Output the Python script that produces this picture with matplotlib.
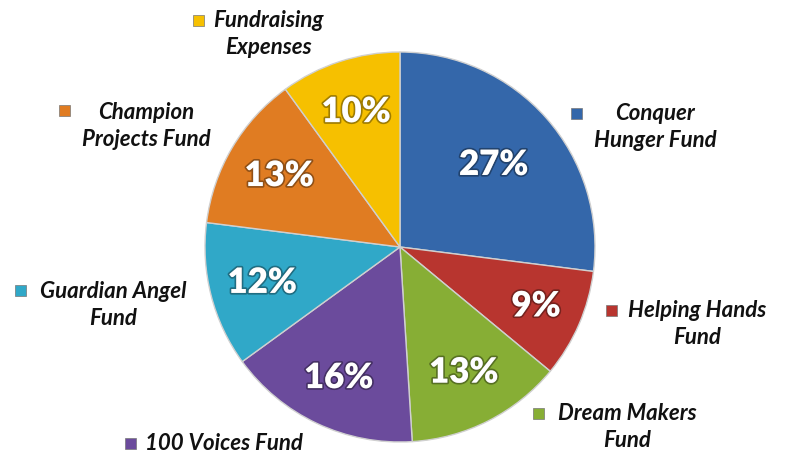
import matplotlib
matplotlib.use("Agg")
import matplotlib.pyplot as plt
import matplotlib.patheffects as pe
from matplotlib.patches import Rectangle
import numpy as np

categories = ["Conquer\nHunger Fund", "Helping Hands\nFund", "Dream Makers\nFund",
              "100 Voices Fund", "Guardian Angel\nFund", "Champion\nProjects Fund",
              "Fundraising\nExpenses"]
values = [27, 9, 13, 16, 12, 13, 10]
pct_labels = ["27%", "9%", "13%", "16%", "12%", "13%", "10%"]
colors = ["#3467AA", "#B8352F", "#87AE35", "#6B4B9C", "#30A8C8", "#E07C22", "#F6C000"]

# layout (pixel coords, y from top)
W, H = 785, 455
cx, cy, R = 400, 247, 195
pct_dist = [0.64, 0.76, 0.72, 0.74, 0.73, 0.72, 0.73]
label_pos = [(655, 127), (697, 324), (627, 427), (224, 443), (113, 305), (146, 126), (268, 34)]
marker_pos = [(576, 113), (611, 310), (538, 413), (130, 443), (20, 290), (64, 110), (198, 20)]

fig = plt.figure(figsize=(W / 100, H / 100), dpi=100)
ax = fig.add_axes([0, 0, 1, 1])
ax.set_xlim(0, W)
ax.set_ylim(0, H)
ax.set_aspect("equal")
ax.axis("off")

wedges, _ = ax.pie(values, colors=colors, startangle=90, counterclock=False,
                   center=(cx, H - cy), radius=R,
                   wedgeprops=dict(edgecolor="#d0d0d0", linewidth=1.0))
ax.set_xlim(0, W)
ax.set_ylim(0, H)

for w, lab, d in zip(wedges, pct_labels, pct_dist):
    ang = np.deg2rad((w.theta1 + w.theta2) / 2)
    x = cx + d * R * np.cos(ang)
    y = (H - cy) + d * R * np.sin(ang)
    ax.text(x, y, lab, ha="center", va="center", color="white", fontsize=25,
            fontweight="heavy", family="Lato",
            path_effects=[pe.withStroke(linewidth=2.5, foreground=(0, 0, 0, 0.35))])

for lab, (lx, ly), (mx, my), c in zip(categories, label_pos, marker_pos, colors):
    ax.text(lx, H - ly, lab, ha="center", va="center", fontsize=16, color="#111111",
            fontweight="bold", style="italic", family="Lato", linespacing=1.35)
    s = 11
    ax.add_patch(Rectangle((mx - s / 2, H - my - s / 2), s, s, facecolor=c,
                           edgecolor="#777777", linewidth=0.5))

fig.savefig("out.png", dpi=100)
